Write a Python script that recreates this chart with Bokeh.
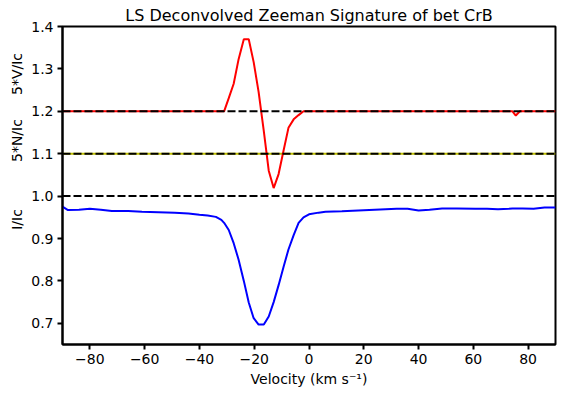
import math
from bokeh.plotting import figure
from bokeh.layouts import row
from bokeh.models import Range1d, Label, NumeralTickFormatter, CustomJSTickFormatter, FixedTicker
from bokeh.embed import file_html
from bokeh.resources import INLINE

# Velocity grid (km/s)
velocity = [-90, -88, -84, -80, -76, -72, -66, -61, -55, -49, -44, -40, -37, -34, -32, -31,
            -29.3, -27.5, -25.7, -23.8, -22.0, -20.2, -18.4, -16.5, -14.7, -12.9, -11.1, -9.3,
            -7.5, -5.6, -3.8, -2.0, 0, 3.5, 6, 12, 18, 24, 28, 32, 36, 40, 44, 48.6, 54, 60.7,
            65, 69, 73, 74.3, 75.5, 77, 78, 82, 86, 90]

# Stokes I / Ic
stokes_i = [0.975, 0.967, 0.968, 0.970, 0.968, 0.965, 0.965, 0.963, 0.962, 0.961, 0.959, 0.956,
            0.954, 0.951, 0.944, 0.937, 0.920, 0.889, 0.850, 0.800, 0.749, 0.712, 0.697, 0.697,
            0.716, 0.750, 0.790, 0.833, 0.874, 0.908, 0.937, 0.950, 0.957, 0.961, 0.963, 0.964,
            0.966, 0.968, 0.969, 0.970, 0.970, 0.966, 0.968, 0.971, 0.971, 0.970, 0.970, 0.969,
            0.970, 0.971, 0.971, 0.971, 0.971, 0.970, 0.973, 0.973]

# 5*V/Ic shifted to 1.2
stokes_v = [1.2, 1.2, 1.2, 1.2, 1.2, 1.2, 1.2, 1.2, 1.2, 1.2, 1.2, 1.2, 1.2, 1.2, 1.2, 1.2,
            1.231, 1.265, 1.323, 1.370, 1.370, 1.316, 1.246, 1.153, 1.060, 1.019, 1.052, 1.107,
            1.161, 1.181, 1.191, 1.200, 1.2, 1.2, 1.2, 1.2, 1.2, 1.2, 1.2, 1.2, 1.2, 1.2, 1.2,
            1.2, 1.2, 1.2, 1.2, 1.2, 1.2, 1.2, 1.19, 1.2, 1.2, 1.2, 1.2, 1.2]

# 5*N/Ic shifted to 1.1
null_n = [1.1] * len(velocity)

ref_levels = [1.0, 1.1, 1.2]
x_ticks = [-80, -60, -40, -20, 0, 20, 40, 60, 80]
y_ticks = [0.7, 0.8, 0.9, 1.0, 1.1, 1.2, 1.3, 1.4]
side_labels = ["5*V/Ic", "5*N/Ic", "I/Ic"]
side_label_levels = [1.288, 1.131, 0.945]

FONT = "DejaVu Sans"
Y0, Y1 = 0.65, 1.4
TOP, FH, BOT = 26, 318, 43
H = TOP + FH + BOT

p = figure(width=530, height=H, frame_width=493, frame_height=FH,
           min_border_left=34, min_border_right=3, min_border_top=TOP, min_border_bottom=BOT,
           output_backend="svg", toolbar_location=None,
           x_range=Range1d(-90, 90), y_range=Range1d(Y0, Y1),
           title="LS Deconvolved Zeeman Signature of bet CrB")

p.title.text_font = FONT
p.title.text_font_size = "16px"
p.title.text_font_style = "normal"
p.title.text_color = "black"
p.title.align = "center"
p.title.standoff = 4

p.xgrid.visible = False
p.ygrid.visible = False
p.outline_line_color = "black"
p.outline_line_width = 2
p.outline_line_alpha = 1
p.background_fill_color = "white"
p.border_fill_color = "white"

p.line(velocity, stokes_i, line_color="#0000ff", line_width=2)
p.line(velocity, null_n, line_color="#bfbf00", line_width=2)
p.line(velocity, stokes_v, line_color="#ff0000", line_width=2)

for lvl in ref_levels:
    p.line([velocity[0], velocity[-1]], [lvl, lvl], line_color="black", line_width=2,
           line_dash="8 3")

for ax in (p.xaxis[0], p.yaxis[0]):
    ax.axis_line_width = 2
    ax.axis_line_color = "black"
    ax.major_tick_line_width = 2
    ax.major_tick_out = 5
    ax.major_tick_in = 0
    ax.minor_tick_out = 0
    ax.minor_tick_in = 0
    ax.major_label_text_font = FONT
    ax.major_label_text_font_size = "14px"
    ax.major_label_text_color = "black"

p.xaxis.ticker = FixedTicker(ticks=x_ticks)
p.yaxis.ticker = FixedTicker(ticks=y_ticks)
p.yaxis.formatter = NumeralTickFormatter(format="0.0")
p.xaxis.formatter = CustomJSTickFormatter(code="return tick.toFixed(0).replace('-', '\u2212');")
p.xaxis.axis_label = "Velocity (km s\u207b\u00b9)"
p.xaxis.axis_label_text_font = FONT
p.xaxis.axis_label_text_font_size = "14px"
p.xaxis.axis_label_text_font_style = "normal"
p.xaxis.axis_label_text_color = "black"
p.xaxis.axis_label_standoff = 4
p.xaxis.major_label_standoff = 4
p.yaxis.major_label_standoff = 4

# Narrow side figure sharing the same vertical scale, holding the rotated labels
extra = (Y1 - Y0) / FH
lab = figure(width=28, height=H, frame_width=28, frame_height=FH,
             min_border_left=0, min_border_right=0, min_border_top=TOP, min_border_bottom=BOT,
             output_backend="svg", toolbar_location=None,
             x_range=Range1d(0, 28), y_range=Range1d(Y0, Y1),
             x_axis_type=None, y_axis_type=None)
lab.outline_line_color = None
lab.xgrid.visible = False
lab.ygrid.visible = False
lab.background_fill_color = "white"
lab.border_fill_color = "white"
for txt, yv in zip(side_labels, side_label_levels):
    lab.add_layout(Label(x=16, y=yv, text=txt, angle=math.pi / 2,
                         text_align="center", text_baseline="middle",
                         text_font=FONT, text_font_size="14px", text_color="black"))

layout = row(lab, p)
open("out.html", "w").write(file_html(layout, INLINE))
